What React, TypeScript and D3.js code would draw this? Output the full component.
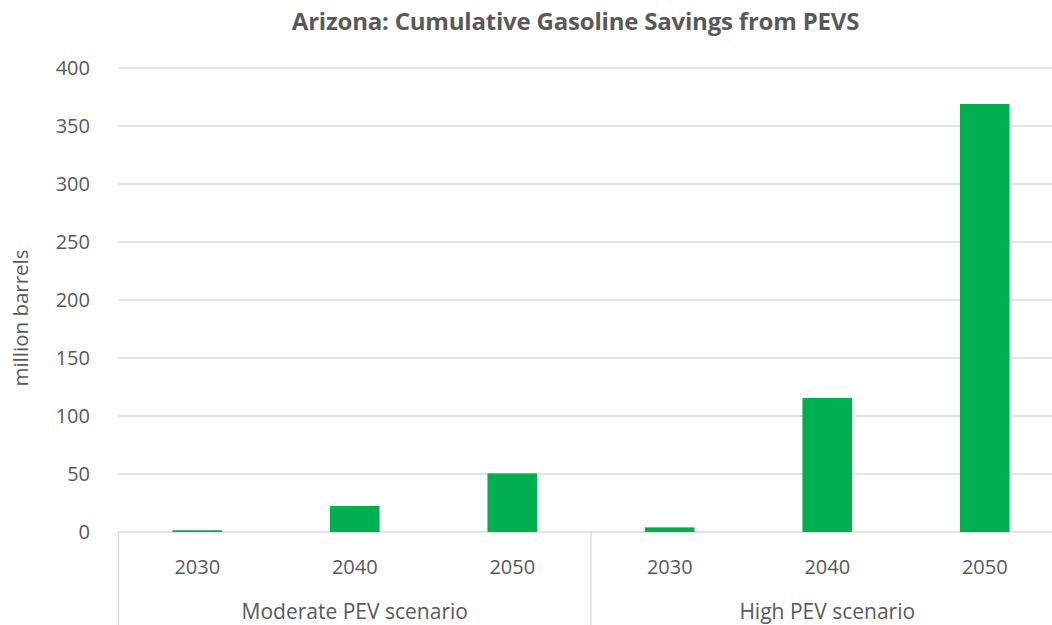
import React from "react";
import * as d3 from "d3";

const groups = ["Moderate PEV scenario", "High PEV scenario"];
const years = ["2030", "2040", "2050"];
const moderateValues = [1.5, 22.5, 50.5];
const highValues = [4, 115.5, 369];
const yTicks = [0, 50, 100, 150, 200, 250, 300, 350, 400];

const W = 1052;
const H = 625;
const left = 118.5;
const right = 1063.5;
const top = 68;
const bottom = 532;
const font = "'Open Sans', Lato, sans-serif";
const textColor = "#595959";

export default function App() {
  const cats = groups.flatMap((g) => years.map((y) => `${g}|${y}`));
  const vals = [...moderateValues, ...highValues];
  const x = d3.scaleBand<string>().domain(cats).range([left, right]).paddingInner(0.685).paddingOuter(0.3425);
  const xb = d3.scaleBand<string>().domain(cats).range([left, right]);
  const y = d3.scaleLinear().domain([0, 400]).range([bottom, top]);
  const groupW = (right - left) / groups.length;
  return (
    <svg width={W} height={H} style={{ position: "absolute", left: 0, top: 0 }}>
      <rect width={W} height={H} fill="#fff" />
      <text x={575.5} y={22} dy="0.35em" textAnchor="middle" fontFamily={font} fontWeight="bold" fontSize={24} letterSpacing={-0.2} fill={textColor}>
        Arizona: Cumulative Gasoline Savings from PEVS
      </text>
      {yTicks.map((t) => (
        <g key={t}>
          <line x1={left} x2={W} y1={y(t)} y2={y(t)} stroke="#d9d9d9" strokeWidth={1.3} />
          <text x={90} y={y(t)} dy="0.36em" textAnchor="end" fontFamily={font} fontSize={20} fill={textColor}>
            {t}
          </text>
        </g>
      ))}
      <text transform={`translate(28,318) rotate(-90)`} textAnchor="middle" fontFamily={font} fontSize={20.5} fill={textColor}>
        million barrels
      </text>
      {cats.map((c, i) => (
        <rect key={c} x={x(c)} y={y(vals[i])} width={x.bandwidth()} height={bottom - y(vals[i])} fill="#00B050" />
      ))}
      {[0, 1, 2].map((i) => (
        <line key={i} x1={left + i * groupW} x2={left + i * groupW} y1={bottom} y2={H} stroke="#d9d9d9" strokeWidth={1.3} />
      ))}
      {cats.map((c) => (
        <text key={c} x={(xb(c) as number) + xb.bandwidth() / 2} y={574} textAnchor="middle" fontFamily={font} fontSize={20} fill={textColor}>
          {c.split("|")[1]}
        </text>
      ))}
      {groups.map((g, i) => (
        <text key={g} x={left + groupW * (i + 0.5)} y={619} textAnchor="middle" fontFamily={font} fontSize={21} fill={textColor}>
          {g}
        </text>
      ))}
    </svg>
  );
}
